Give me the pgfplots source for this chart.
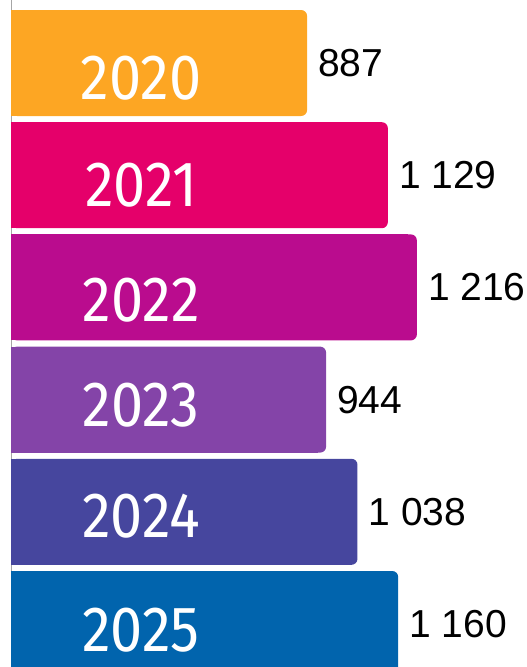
\documentclass[border=0pt]{standalone}
\usepackage{pgfplots}
\pgfplotsset{compat=1.18}
\usepackage{fontspec}
\setmainfont{Liberation Sans}
\newfontfamily\yearfont[FakeStretch=0.90]{Fira Sans}
\definecolor{c0}{RGB}{253,166,35}
\definecolor{c1}{RGB}{229,0,106}
\definecolor{c2}{RGB}{186,12,142}
\definecolor{c3}{RGB}{132,68,168}
\definecolor{c4}{RGB}{70,70,158}
\definecolor{c5}{RGB}{1,100,173}
\newcommand{\yl}[2]{\raisebox{-#1pt}[\height][\depth]{#2}}
\begin{document}
\begin{tikzpicture}
\begin{axis}[
  scale only axis, width=526pt, height=667pt,
  xbar, bar shift=0pt, bar width=106pt,
  xmin=-32.96, xmax=1543.3,
  ymin=-0.5615, ymax=5.3832, y dir=reverse,
  axis line style={draw=none},
  xtick=\empty,
  ytick={0,1,2,3,4,5},
  yticklabels={\yl{15.5}{2020},\yl{10}{2021},\yl{12.5}{2022},\yl{6}{2023},\yl{4.5}{2024},\yl{6}{2025}},
  major tick length=0pt,
  axis on top,
  yticklabel style={font=\yearfont\fontsize{64}{64}\selectfont, text=white, anchor=center, xshift=141pt},
  /pgf/number format/assume math mode=true,
  every node near coord/.append style={font=\fontsize{39}{39}\selectfont, text=black, anchor=west, inner sep=0pt, xshift=11pt},
]
\draw[gray!70, line width=1pt] (axis cs:0,-1) -- (axis cs:0,6);
\addplot[fill=c0, draw=none, rounded corners=6pt, nodes near coords={\pgfmathprintnumber[1000 sep={\ }]{\pgfplotspointmeta}}, point meta=x] coordinates {(887,0)};
\addplot[fill=c0, draw=none] coordinates {(860,0)};
\addplot[fill=c1, draw=none, rounded corners=6pt, nodes near coords={\pgfmathprintnumber[1000 sep={\ }]{\pgfplotspointmeta}}, point meta=x] coordinates {(1129,1)};
\addplot[fill=c1, draw=none] coordinates {(1100,1)};
\addplot[fill=c2, draw=none, rounded corners=6pt, nodes near coords={\pgfmathprintnumber[1000 sep={\ }]{\pgfplotspointmeta}}, point meta=x] coordinates {(1216,2)};
\addplot[fill=c2, draw=none] coordinates {(1190,2)};
\addplot[fill=c3, draw=none, rounded corners=6pt, nodes near coords={\pgfmathprintnumber[1000 sep={\ }]{\pgfplotspointmeta}}, point meta=x] coordinates {(944,3)};
\addplot[fill=c3, draw=none] coordinates {(920,3)};
\addplot[fill=c4, draw=none, rounded corners=6pt, nodes near coords={\pgfmathprintnumber[1000 sep={\ }]{\pgfplotspointmeta}}, point meta=x] coordinates {(1038,4)};
\addplot[fill=c4, draw=none] coordinates {(1010,4)};
\addplot[fill=c5, draw=none, rounded corners=6pt, nodes near coords={\pgfmathprintnumber[1000 sep={\ }]{\pgfplotspointmeta}}, point meta=x] coordinates {(1160,5)};
\addplot[fill=c5, draw=none] coordinates {(1130,5)};
\end{axis}
\end{tikzpicture}
\end{document}
